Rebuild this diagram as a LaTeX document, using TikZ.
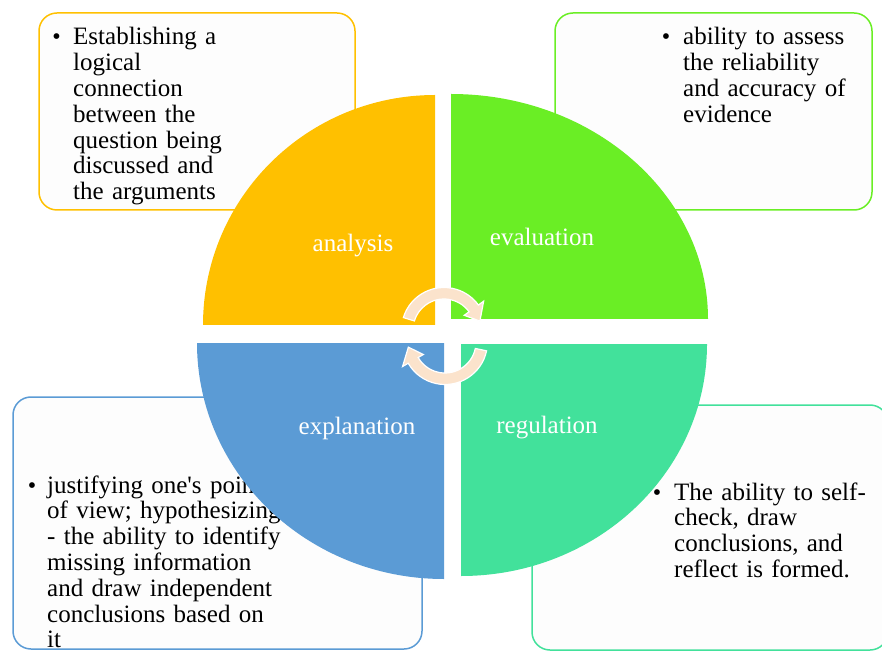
\documentclass[tikz,border=0pt]{standalone}
\usepackage{fontspec}
\setmainfont{Liberation Serif}
\definecolor{cOrange}{HTML}{FFC000}
\definecolor{cGreen}{HTML}{6AEE25}
\definecolor{cBlue}{HTML}{5B9BD5}
\definecolor{cTeal}{HTML}{42E19B}
\definecolor{cPeach}{HTML}{FBE3CC}
\definecolor{boxfill}{HTML}{FDFDFD}
\begin{document}
\begin{tikzpicture}[x=1pt,y=1pt,
  calloutbox/.style={line width=1.5pt, fill=boxfill, rounded corners=18pt},
  bodytext/.style={anchor=base west, inner sep=0pt, text width=280pt, align=left, font=\fontsize{25}{25.8}\selectfont},
  bul/.style={anchor=base, inner sep=0pt, font=\fontsize{24}{25.8}\selectfont},
  quadlabel/.style={anchor=base, inner sep=0pt, text=white, font=\fontsize{25}{26}\selectfont},
  cyc/.style={fill=cPeach, draw=white, line width=1.2pt, line join=miter}]
\useasboundingbox (0,0) rectangle (882,651);
% callout boxes
\draw[calloutbox, draw=cOrange] (39,441) rectangle (355,638);
\draw[calloutbox, draw=cGreen] (555,441) rectangle (872,638);
\draw[calloutbox, draw=cBlue] (13,2) rectangle (422,254);
\draw[calloutbox, draw=cTeal] (532,1) rectangle (888,246);
% texts
\node[bul] (ob) at (56.5,606) {•};
\node[bodytext] (ot) at (73,606) {Establishing a\\logical\\connection\\between the\\question being\\discussed and\\the arguments};
\node[bul] (gb) at (666,606) {•};
\node[bodytext] (gt) at (683,606) {ability to assess\\the reliability\\and accuracy of\\evidence};
\node[bul] (bb) at (32,158) {•};
\node[bodytext] (bt) at (47,158) {justifying one\textquotesingle s point\\of view; hypothesizing\\- the ability to identify\\missing information\\and draw independent\\conclusions based on\\it};
\node[bul] (tb) at (657,151) {•};
\node[bodytext] (tt) at (674,151) {The ability to self-\\check, draw\\conclusions, and\\reflect is formed.};
% quadrants
\fill[cOrange] (435,326) -- (203,326) arc[start angle=180,end angle=90,x radius=232,y radius=230] -- cycle;
\fill[cGreen] (451,332) -- (708,332) arc[start angle=0,end angle=90,x radius=257,y radius=225] -- cycle;
\fill[cBlue] (444,308) -- (197,308) arc[start angle=180,end angle=270,x radius=247,y radius=236] -- cycle;
\fill[cTeal] (461,307) -- (707,307) arc[start angle=0,end angle=-90,x radius=246,y radius=232] -- cycle;
% labels
\node[quadlabel] (la) at (353,399) {analysis};
\node[quadlabel] (le) at (542,405) {evaluation};
\node[quadlabel] (lx) at (357,217) {explanation};
\node[quadlabel] (lr) at (547,218) {regulation};
% circular arrows
\begin{scope}[shift={(444,321)}]
\filldraw[cyc] (163:42.5pt) arc[start angle=163,end angle=36,radius=42.5pt] -- (36:49pt) -- (14:37pt) -- (36:25pt) -- (36:31pt) arc[start angle=36,end angle=163,radius=31pt] -- cycle;
\end{scope}
\begin{scope}[shift={(445,309)}]
\filldraw[cyc] (-12:42.5pt) arc[start angle=-12,end angle=-150,radius=42.5pt] -- (-150:49pt) -- (-172:37pt) -- (-150:25pt) -- (-150:31pt) arc[start angle=-150,end angle=-12,radius=31pt] -- cycle;
\end{scope}
\end{tikzpicture}
\end{document}
